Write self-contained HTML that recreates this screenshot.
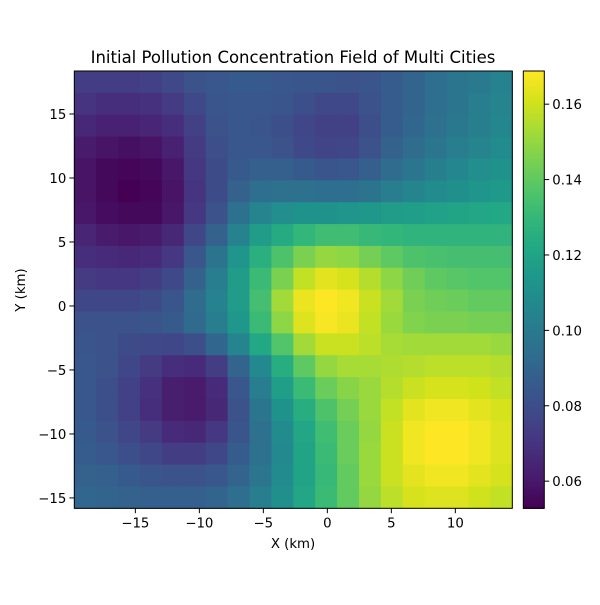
<!DOCTYPE html>
<html><head><meta charset="utf-8"><style>
html,body{margin:0;padding:0;background:#fff}
svg text{font-family:"DejaVu Sans","Liberation Sans",sans-serif;fill:#000}
</style></head><body>
<svg id="chart" width="600" height="600" viewBox="0 0 600 600" xmlns="http://www.w3.org/2000/svg">
<rect width="600" height="600" fill="#fff"/>
<text x="293" y="63" font-size="16.5" text-anchor="middle">Initial Pollution Concentration Field of Multi Cities</text>
<g id="cells"></g>
<g id="cbar"></g>
<g id="axes"></g>
<text x="293" y="548" font-size="13.3" text-anchor="middle">X (km)</text>
<text x="0" y="0" font-size="13.3" text-anchor="middle" transform="translate(25,290) rotate(-90)">Y (km)</text>
</svg>
<script>
// normalized concentration (0 = min, 1 = max), rows top (high Y) to bottom
const vMin = 0.0528;
const vMax = 0.1688;
const xExtent = [-19.77, 14.45];
const yExtent = [-15.81, 18.36];
const xTicks = [-15, -10, -5, 0, 5, 10];
const yTicks = [-15, -10, -5, 0, 5, 10, 15];
const cbTicks = [0.06, 0.08, 0.10, 0.12, 0.14, 0.16];
const field = [
[0.18,0.18,0.18,0.19,0.22,0.25,0.27,0.28,0.28,0.27,0.26,0.26,0.25,0.26,0.29,0.32,0.36,0.39,0.41,0.44],
[0.15,0.13,0.13,0.14,0.17,0.22,0.26,0.27,0.27,0.26,0.24,0.22,0.22,0.25,0.29,0.32,0.36,0.39,0.42,0.45],
[0.11,0.09,0.09,0.10,0.13,0.19,0.25,0.27,0.26,0.24,0.21,0.19,0.19,0.24,0.29,0.33,0.37,0.40,0.43,0.46],
[0.07,0.05,0.04,0.05,0.09,0.17,0.24,0.27,0.27,0.25,0.22,0.20,0.21,0.25,0.31,0.35,0.39,0.42,0.45,0.48],
[0.05,0.02,0.01,0.02,0.06,0.16,0.23,0.28,0.30,0.30,0.28,0.26,0.27,0.30,0.35,0.39,0.43,0.46,0.49,0.51],
[0.05,0.02,0.00,0.01,0.05,0.15,0.23,0.31,0.36,0.37,0.37,0.36,0.36,0.38,0.42,0.45,0.48,0.50,0.52,0.54],
[0.06,0.03,0.02,0.02,0.06,0.16,0.25,0.37,0.45,0.49,0.51,0.51,0.52,0.53,0.55,0.56,0.57,0.58,0.59,0.60],
[0.10,0.07,0.06,0.07,0.11,0.21,0.31,0.44,0.55,0.61,0.66,0.69,0.69,0.67,0.66,0.65,0.65,0.65,0.65,0.65],
[0.13,0.12,0.11,0.12,0.16,0.27,0.38,0.52,0.63,0.72,0.80,0.84,0.83,0.79,0.75,0.72,0.71,0.70,0.70,0.70],
[0.17,0.16,0.16,0.18,0.22,0.31,0.42,0.55,0.68,0.80,0.91,0.96,0.94,0.89,0.83,0.78,0.75,0.74,0.73,0.73],
[0.21,0.21,0.21,0.23,0.26,0.35,0.44,0.55,0.70,0.86,0.97,1.00,0.98,0.92,0.86,0.80,0.78,0.77,0.76,0.76],
[0.25,0.25,0.25,0.26,0.28,0.34,0.42,0.53,0.68,0.83,0.95,0.99,0.97,0.91,0.85,0.81,0.80,0.80,0.79,0.79],
[0.26,0.25,0.23,0.22,0.21,0.24,0.33,0.45,0.60,0.73,0.86,0.92,0.92,0.90,0.87,0.86,0.86,0.86,0.86,0.85],
[0.27,0.25,0.21,0.17,0.13,0.12,0.18,0.32,0.47,0.62,0.75,0.84,0.87,0.87,0.88,0.89,0.90,0.90,0.90,0.89],
[0.27,0.24,0.19,0.14,0.08,0.07,0.12,0.27,0.42,0.56,0.68,0.77,0.82,0.85,0.89,0.92,0.94,0.94,0.93,0.91],
[0.27,0.24,0.19,0.13,0.08,0.07,0.11,0.25,0.39,0.51,0.62,0.72,0.79,0.85,0.91,0.96,0.98,0.98,0.96,0.94],
[0.28,0.25,0.21,0.17,0.12,0.11,0.16,0.26,0.37,0.48,0.59,0.69,0.77,0.84,0.92,0.98,1.00,1.00,0.98,0.95],
[0.29,0.27,0.24,0.21,0.18,0.18,0.21,0.29,0.37,0.47,0.58,0.68,0.77,0.85,0.92,0.98,1.00,1.00,0.98,0.95],
[0.31,0.30,0.28,0.26,0.25,0.25,0.27,0.32,0.39,0.48,0.58,0.67,0.76,0.85,0.92,0.96,0.98,0.98,0.96,0.94],
[0.33,0.32,0.31,0.30,0.30,0.30,0.32,0.36,0.42,0.50,0.59,0.68,0.76,0.84,0.90,0.94,0.95,0.95,0.93,0.91]
];

const NS = "http://www.w3.org/2000/svg";
const plot = {l:74.3, r:512.3, t:71, b:508.3};
const cb = {l:523.3, r:544.3, t:71, b:508.3};
function xScale(v){return plot.l + (v - xExtent[0])/(xExtent[1]-xExtent[0])*(plot.r-plot.l);}
function yScale(v){return plot.b - (v - yExtent[0])/(yExtent[1]-yExtent[0])*(plot.b-plot.t);}
function cbScale(v){return cb.b - (v - vMin)/(vMax-vMin)*(cb.b-cb.t);}
const vir = ["#440154","#481a6c","#472f7d","#414487","#39568c","#31688e","#2a788e","#23888e","#1f988b","#22a884","#35b779","#54c568","#7ad151","#a5db36","#d2e21b","#fde725"];
function hex(h){return [1,3,5].map(i=>parseInt(h.substr(i,2),16));}
function viridis(t){
  t=Math.max(0,Math.min(1,t));
  const p=t*(vir.length-1), i=Math.min(vir.length-2,Math.floor(p)), f=p-i;
  const a=hex(vir[i]), b=hex(vir[i+1]);
  return "rgb("+a.map((c,k)=>Math.round(c+(b[k]-c)*f)).join(",")+")";
}
function mk(tag, attrs, parent){
  const e=document.createElementNS(NS,tag);
  for(const k in attrs) e.setAttribute(k, attrs[k]);
  parent.appendChild(e); return e;
}
const cells=document.getElementById("cells");
const nR=field.length, nC=field[0].length;
const dx=(xExtent[1]-xExtent[0])/nC, dy=(yExtent[1]-yExtent[0])/nR;
for(let r=0;r<nR;r++){
  for(let c=0;c<nC;c++){
    const x0=xScale(xExtent[0]+c*dx), x1=xScale(xExtent[0]+(c+1)*dx);
    const y0=yScale(yExtent[1]-r*dy), y1=yScale(yExtent[1]-(r+1)*dy);
    const el=mk("rect",{x:x0,y:y0,width:x1-x0+0.5,height:y1-y0+0.5,fill:viridis(field[r][c])},cells);
    
    
  }
}
const axes=document.getElementById("axes");
mk("rect",{x:plot.l,y:plot.t,width:plot.r-plot.l,height:plot.b-plot.t,fill:"none",stroke:"#000","stroke-width":1},axes);
xTicks.forEach(v=>{
  const x=xScale(v);
  mk("line",{x1:x,x2:x,y1:plot.b,y2:plot.b+4.9,stroke:"#000","stroke-width":1},axes);
  const t=mk("text",{x:x,y:plot.b+19,"font-size":"13.3","text-anchor":"middle"},axes);
  t.textContent=(v<0?"\u2212"+(-v):String(v));
  
  
});
yTicks.forEach(v=>{
  const y=yScale(v);
  mk("line",{x1:plot.l-4.9,x2:plot.l,y1:y,y2:y,stroke:"#000","stroke-width":1},axes);
  const t=mk("text",{x:plot.l-8,y:y+5,"font-size":"13.3","text-anchor":"end"},axes);
  t.textContent=(v<0?"\u2212"+(-v):String(v));
  
  
});
const cbar=document.getElementById("cbar");
const steps=200;
for(let i=0;i<steps;i++){
  const v0=vMin+(vMax-vMin)*i/steps, v1=vMin+(vMax-vMin)*(i+1)/steps;
  mk("rect",{x:cb.l,y:cbScale(v1),width:cb.r-cb.l,height:cbScale(v0)-cbScale(v1)+0.6,fill:viridis(i/(steps-1))},cbar);
}
mk("rect",{x:cb.l,y:cb.t,width:cb.r-cb.l,height:cb.b-cb.t,fill:"none",stroke:"#000","stroke-width":1},cbar);
cbTicks.forEach(v=>{
  const y=cbScale(v);
  mk("line",{x1:cb.r,x2:cb.r+4.9,y1:y,y2:y,stroke:"#000","stroke-width":1},cbar);
  const t=mk("text",{x:cb.r+8,y:y+5,"font-size":"13.3"},cbar);
  t.textContent=v.toFixed(2);
  
  
});
</script>
</body></html>
